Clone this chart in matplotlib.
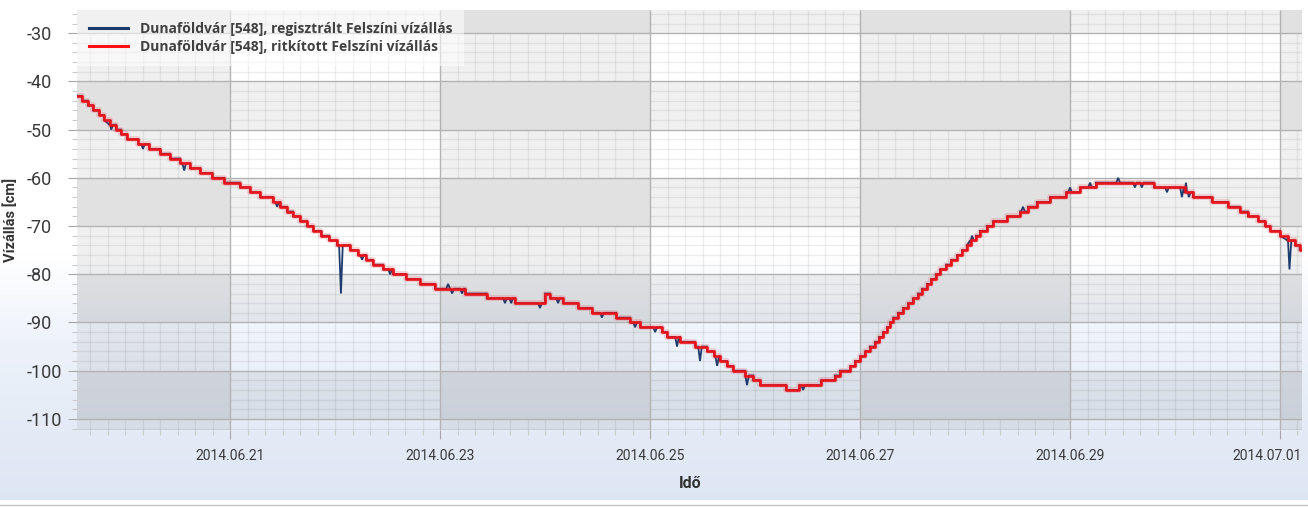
import matplotlib
matplotlib.use("Agg")
import matplotlib.pyplot as plt
import matplotlib.dates as mdates
import matplotlib.ticker as mticker
import matplotlib.transforms as mtransforms
from matplotlib.collections import LineCollection
from matplotlib.path import Path
from matplotlib.lines import Line2D
from matplotlib.patches import Rectangle
from matplotlib.colors import to_rgb
from datetime import timedelta
import numpy as np
import pandas as pd

plt.rcParams['font.family'] = ['Roboto', 'DejaVu Sans']
plt.rcParams['axes.unicode_minus'] = False

# ---------------- data ----------------
series_registered = "Dunaföldvár [548], regisztrált Felszíni vízállás"
series_thinned = "Dunaföldvár [548], ritkított Felszíni vízállás"
y_title = "Vízállás [cm]"
x_title = "Idő"
x_start = "2014-06-19 13:00"
x_end = "2014-07-01 04:55"
y_min, y_max = -112.3, -25.2

# thinned (step) series: time of each level change and the new level [cm]
thin_times = [
    "2014-06-19 13:00", "2014-06-19 14:10", "2014-06-19 15:30", "2014-06-19 16:40",
    "2014-06-19 18:05", "2014-06-19 19:10", "2014-06-19 20:35", "2014-06-19 21:55",
    "2014-06-19 23:05", "2014-06-20 00:25", "2014-06-20 03:00", "2014-06-20 05:30",
    "2014-06-20 08:00", "2014-06-20 10:15", "2014-06-20 12:35", "2014-06-20 14:50",
    "2014-06-20 17:10", "2014-06-20 19:55", "2014-06-20 22:40",
    "2014-06-21 02:15", "2014-06-21 04:35", "2014-06-21 06:50", "2014-06-21 09:50",
    "2014-06-21 11:25", "2014-06-21 13:00", "2014-06-21 14:25", "2014-06-21 16:00",
    "2014-06-21 17:35", "2014-06-21 19:00", "2014-06-21 20:50", "2014-06-21 22:40",
    "2014-06-22 00:25", "2014-06-22 03:25", "2014-06-22 05:15", "2014-06-22 07:05",
    "2014-06-22 08:40", "2014-06-22 11:00", "2014-06-22 13:15", "2014-06-22 16:15",
    "2014-06-22 19:25", "2014-06-22 22:50",
    "2014-06-23 05:45", "2014-06-23 10:40", "2014-06-23 17:10", "2014-06-24 00:00",
    "2014-06-24 01:10", "2014-06-24 04:05", "2014-06-24 07:35", "2014-06-24 10:45",
    "2014-06-24 16:15", "2014-06-24 19:25", "2014-06-24 21:45",
    "2014-06-25 02:45", "2014-06-25 03:55", "2014-06-25 06:50", "2014-06-25 10:15",
    "2014-06-25 13:00", "2014-06-25 14:40", "2014-06-25 16:00", "2014-06-25 17:35",
    "2014-06-25 19:00", "2014-06-25 21:45", "2014-06-25 23:35", "2014-06-26 01:10",
    "2014-06-26 07:05", "2014-06-26 10:05", "2014-06-26 15:05", "2014-06-26 18:15",
    "2014-06-26 19:25", "2014-06-26 21:45", "2014-06-26 22:50", "2014-06-27 00:00",
    "2014-06-27 01:10", "2014-06-27 02:15", "2014-06-27 03:25", "2014-06-27 04:20",
    "2014-06-27 05:15", "2014-06-27 06:10", "2014-06-27 06:50", "2014-06-27 07:35",
    "2014-06-27 08:40", "2014-06-27 09:50", "2014-06-27 11:00", "2014-06-27 12:05",
    "2014-06-27 13:15", "2014-06-27 14:10", "2014-06-27 15:20", "2014-06-27 16:15",
    "2014-06-27 17:20", "2014-06-27 18:15", "2014-06-27 19:40", "2014-06-27 20:50",
    "2014-06-27 22:10", "2014-06-27 23:20", "2014-06-28 00:25", "2014-06-28 01:20",
    "2014-06-28 02:30", "2014-06-28 03:25", "2014-06-28 05:00", "2014-06-28 06:25",
    "2014-06-28 09:35", "2014-06-28 12:35", "2014-06-28 14:25", "2014-06-28 16:25",
    "2014-06-28 19:25", "2014-06-28 23:05",
    "2014-06-29 02:15", "2014-06-29 05:55", "2014-06-29 19:10", "2014-06-30 02:15",
    "2014-06-30 04:05", "2014-06-30 08:25", "2014-06-30 12:05", "2014-06-30 14:50",
    "2014-06-30 16:40", "2014-06-30 19:00", "2014-06-30 20:35", "2014-06-30 21:45",
    "2014-07-01 00:00", "2014-07-01 01:50", "2014-07-01 03:25", "2014-07-01 04:30",
    "2014-07-01 05:00",
]
thin_levels = [
    -43, -44, -45, -46, -47, -48, -49, -50, -51, -52, -53, -54,
    -55, -56, -57, -58, -59, -60, -61,
    -62, -63, -64, -65, -66, -67, -68, -69, -70, -71, -72, -73,
    -74, -75, -76, -77, -78, -79, -80, -81, -82, -83,
    -84, -85, -86, -84, -85, -86, -87, -88, -89, -90, -91,
    -92, -93, -94, -95, -96, -97, -98, -99, -100, -101, -102, -103,
    -104, -103, -102, -101, -100, -99, -98, -97,
    -96, -95, -94, -93, -92, -91, -90, -89, -88, -87, -86, -85,
    -84, -83, -82, -81, -80, -79, -78, -77, -76, -75, -74, -73,
    -72, -71, -70, -69, -68, -67, -66, -65, -64, -63,
    -62, -61, -62, -63, -64, -65, -66, -67, -68, -69, -70, -71,
    -72, -73, -74, -75, -75,
]

# registered series: short excursions away from the thinned level
spike_times = [
    "2014-06-19 20:50", "2014-06-20 04:05", "2014-06-20 13:30", "2014-06-21 10:45",
    "2014-06-22 01:20", "2014-06-22 06:10", "2014-06-22 12:35", "2014-06-23 01:50",
    "2014-06-23 02:45", "2014-06-23 05:00", "2014-06-23 14:50", "2014-06-23 16:15",
    "2014-06-23 22:50", "2014-06-24 02:58", "2014-06-24 13:00", "2014-06-24 20:35",
    "2014-06-25 01:10", "2014-06-25 06:10", "2014-06-25 11:25", "2014-06-25 15:20",
    "2014-06-25 22:10", "2014-06-26 11:00", "2014-06-28 01:35", "2014-06-28 13:15",
    "2014-06-29 00:00", "2014-06-29 04:35", "2014-06-29 11:00", "2014-06-29 14:50",
    "2014-06-29 16:25", "2014-06-29 22:10", "2014-06-30 01:35", "2014-06-30 02:30",
    "2014-06-30 03:10", "2014-07-01 02:10",
]
spike_levels = [
    -50, -54, -58.5, -66,
    -84, -77, -80, -82,
    -84, -84, -86, -86,
    -87, -86, -89, -91,
    -92, -95, -98, -99,
    -103, -104, -72, -66,
    -62, -61, -60, -62,
    -62, -63, -64, -61,
    -64, -79,
]

# ---------------- figure ----------------
W, H = 1308, 508
DPI = 100
fig = plt.figure(figsize=(W / DPI, H / DPI), dpi=DPI)

# background gradient (top white -> light blue at bottom)
bg = fig.add_axes([0, 0, 1, 1], zorder=-10)
stops = [(0.0, '#ffffff'), (0.50, '#ffffff'), (0.68, '#edf2fa'),
         (0.85, '#e4ebf6'), (1.0, '#dde6f4')]
fr = np.linspace(0, 1, 400)
pos = [s[0] for s in stops]
cols = np.array([to_rgb(s[1]) for s in stops])
grad = np.stack([np.interp(fr, pos, cols[:, i]) for i in range(3)], axis=1)
bg.imshow(grad[:, None, :], aspect='auto', extent=[0, 1, 0, 1], origin='upper')
bg.set_xlim(0, 1); bg.set_ylim(0, 1)
bg.axis('off')
bg.add_patch(Rectangle((0, 0), 1, 8.5 / H, facecolor='white', edgecolor='none', zorder=2))
bg.plot([0, 1], [2.8 / H, 2.8 / H], color='#c4c4c4', lw=1.0, zorder=3)

ax_left, ax_right = 77, 1301.5
ax = fig.add_axes([ax_left / W, (H - 430) / H, (ax_right - ax_left) / W, 420 / H])
ax.patch.set_visible(False)
for s in ax.spines.values():
    s.set_visible(False)

xmin_dt = pd.Timestamp(x_start).to_pydatetime()
xmax_dt = pd.Timestamp(x_end).to_pydatetime()
xmin, xmax = mdates.date2num(xmin_dt), mdates.date2num(xmax_dt)
ax.set_xlim(xmin, xmax)
ax.set_ylim(y_min, y_max)

major_x = mdates.DayLocator(bymonthday=list(range(1, 32, 2)))
minor_x = mdates.HourLocator(byhour=list(range(0, 24, 4)))
ax.xaxis.set_major_locator(major_x)
ax.xaxis.set_minor_locator(minor_x)
ax.xaxis.set_major_formatter(mdates.DateFormatter('%Y.%m.%d'))
ax.yaxis.set_major_locator(mticker.MultipleLocator(10))
ax.yaxis.set_minor_locator(mticker.MultipleLocator(2))

# ---- interlaced shading ----
xt = major_x.tick_values(xmin_dt - timedelta(days=3), xmax_dt + timedelta(days=3))
k0 = int(np.searchsorted(xt, xmin, side='right') - 1)
col_int = [(xt[k], xt[k + 1], (k - k0) % 2 == 0) for k in range(len(xt) - 1)]
yt = np.arange(np.floor(y_min / 10) * 10, np.ceil(y_max / 10) * 10 + 10, 10)
row_int = [(yt[k], yt[k + 1], int(round(yt[k] / 10)) % 2 == 1) for k in range(len(yt) - 1)]

shade_a = 0.058
for x0, x1, sh in col_int:
    if sh:
        ax.axvspan(x0, x1, color='black', alpha=shade_a, lw=0, zorder=0.2)
for y0, y1, sh in row_int:
    if sh:
        ax.axhspan(y0, y1, color='black', alpha=shade_a, lw=0, zorder=0.2)

verts, codes = [], []
for x0, x1, cs in col_int:
    for y0, y1, rs in row_int:
        if cs and rs:
            continue
        verts += [(x0, y0), (x1, y0), (x1, y1), (x0, y1), (x0, y0)]
        codes += [Path.MOVETO, Path.LINETO, Path.LINETO, Path.LINETO, Path.CLOSEPOLY]
clip = Path(verts, codes)

# minor grid (hidden in doubly shaded cells)
mx = ax.xaxis.get_minorticklocs()
my = ax.yaxis.get_minorticklocs()
segs = [[(x, y_min), (x, y_max)] for x in mx] + [[(xmin, y), (xmax, y)] for y in my]
lc = LineCollection(segs, colors=[(0, 0, 0, 0.065)], linewidths=1.0, zorder=0.3)
ax.add_collection(lc)
lc.set_clip_path(clip, ax.transData)

# major grid
Mx = ax.xaxis.get_majorticklocs()
My = ax.yaxis.get_majorticklocs()
segs = [[(x, y_min), (x, y_max)] for x in Mx] + [[(xmin, y), (xmax, y)] for y in My]
ax.add_collection(LineCollection(segs, colors='#b3b3b3', linewidths=1.0, zorder=0.4))

# ---- series ----
tn = mdates.date2num(pd.to_datetime(thin_times).to_pydatetime())
sn = mdates.date2num(pd.to_datetime(spike_times).to_pydatetime())
half = 25 / 1440.0
pts = []
for i in range(len(tn)):
    if i > 0:
        pts.append((tn[i], thin_levels[i - 1], 0))
    pts.append((tn[i], thin_levels[i], 1))
for s, v in zip(sn, spike_levels):
    idx = int(np.searchsorted(tn, s, side='right') - 1)
    base = thin_levels[idx]
    pts += [(s - half, base, 0), (s, v, 0), (s + half, base, 0)]
pts.sort(key=lambda p: (p[0], p[2]))
bx = [p[0] for p in pts]
by = [p[1] for p in pts]

blue = '#1d3c6e'
red = '#e8141c'
ax.plot(bx, by, color=blue, lw=1.3, zorder=2, solid_joinstyle='miter')
ax.step(tn, thin_levels, where='post', color=red, lw=4.2, alpha=0.16, zorder=3)
ax.step(tn, thin_levels, where='post', color=red, lw=1.9, zorder=3.1)

# ---- ticks ----
ylen = 6.5
ax.tick_params(axis='y', which='major', direction='out', length=ylen, width=0.8,
               color='#a6a6a6', labelsize=13, labelcolor='#3a3a3a',
               pad=(ax_left - 27) * 72 / DPI - ylen)
ax.tick_params(axis='y', which='minor', direction='out', length=3.5, width=0.8,
               color='#cccccc')
ax.tick_params(axis='x', which='major', direction='out', length=6.5, width=0.8,
               color='#a6a6a6', labelsize=10, labelcolor='#3a3a3a', pad=7)
ax.tick_params(axis='x', which='minor', direction='out', length=3.8, width=0.8,
               color='#cccccc')
for lbl in ax.get_yticklabels():
    lbl.set_horizontalalignment('left')

fig.text(690 / W, 1 - 483 / H, x_title, ha='center', va='center', fontsize=11.5,
         fontweight='bold', color='#333333')
fig.text(11 / W, 1 - 220 / H, y_title, ha='center', va='center', rotation=90,
         fontsize=10.5, fontweight='bold', color='#333333')

handles = [Line2D([], [], color='#1a3a6b', lw=2.2), Line2D([], [], color='#ff1010', lw=2.2)]
leg = ax.legend(handles, [series_registered, series_thinned], loc='upper left',
                bbox_to_anchor=(0, 1), borderaxespad=0, frameon=True, fancybox=False,
                framealpha=0.55, facecolor='white', edgecolor='none',
                prop=dict(family=['Open Sans', 'DejaVu Sans'], weight='bold', size=10),
                handlelength=2.8, handletextpad=0.85, labelspacing=0.3, borderpad=0.85)
leg.set_zorder(6)
for t in leg.get_texts():
    t.set_color('#404040')

# keep the x tick labels inside the plot width (as the original control does)
fig.canvas.draw()
renderer = fig.canvas.get_renderer()
for lbl in ax.get_xticklabels():
    if not lbl.get_visible() or not lbl.get_text():
        continue
    bb = lbl.get_window_extent(renderer)
    over = bb.x1 - ax_right
    if over > 0:
        lbl.set_transform(lbl.get_transform() +
                          mtransforms.ScaledTranslation(-over / DPI, 0, fig.dpi_scale_trans))

fig.savefig('out.png', dpi=DPI)
